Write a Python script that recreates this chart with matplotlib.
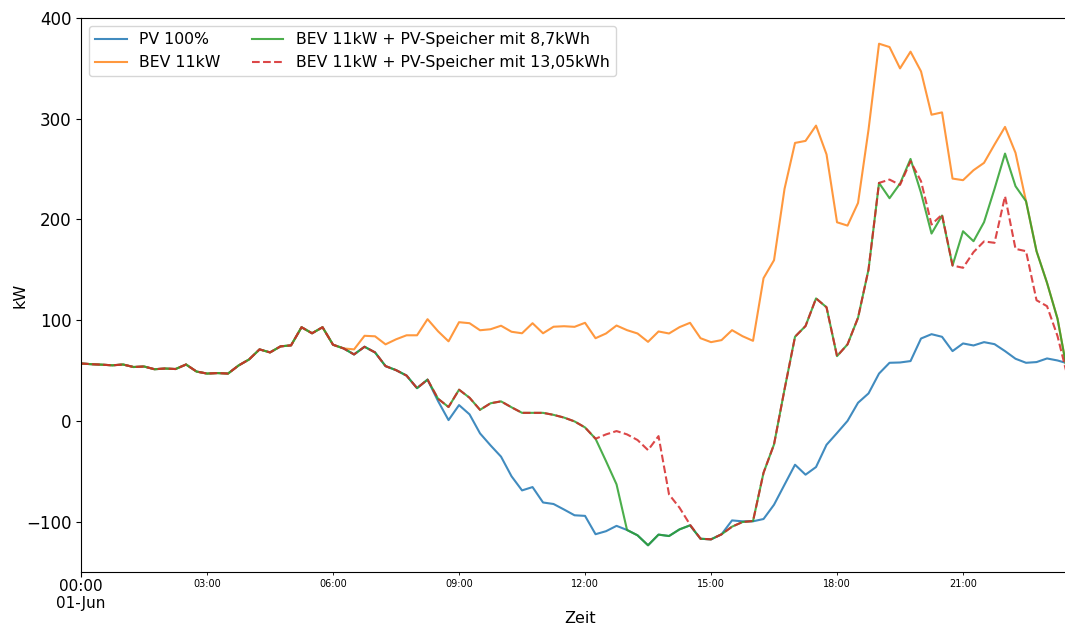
import matplotlib
matplotlib.use("Agg")
import matplotlib.pyplot as plt
import matplotlib.dates as mdates
import numpy as np
import pandas as pd

# 15-minute values for one day (kW)
zeit = pd.date_range("2021-06-01 00:00", periods=96, freq="15min")

# first 25 points are identical for all series
basis = [57, 56.3, 55.8, 55.2, 56, 53.5, 54, 51.3, 52, 51.5, 56, 49, 47,
         47.5, 47, 55, 61, 71, 68, 74, 75, 93, 87, 93, 75.6]

speicher_87 = basis + [
    72, 66, 73.6, 68, 54.4, 50.4, 45, 32.5, 41, 22, 13.8, 31, 23, 11, 17.5,
    19.4, 13.5, 8, 8, 8, 6, 3.3, -0.5, -6.5, -17.7, -40, -63, -108.3,
    -113.6, -123.5, -112.9, -114.3, -107.7, -103.7, -117, -117.6, -112.6,
    -105, -100.4, -99.4, -51.5, -23.3, 31.3, 83.6, 94.2, 121.6, 112.8, 64.3,
    76, 102.4, 150.3, 236.3, 221.1, 235.6, 260.1, 226.4, 186, 203.9, 154.3,
    188.3, 178.4, 197.3, 230.4, 265.4, 233, 218.1, 168.5, 137.1, 101.4, 45, 40]

speicher_1305 = basis + [
    72, 66, 73.6, 68, 54.4, 50.4, 45, 32.5, 41, 22, 13.8, 31, 23, 11, 17.5,
    19.4, 13.5, 8, 8, 8, 6, 3.3, -0.5, -6.5, -17.7, -13.4, -10.1, -13.4,
    -19, -29, -15.1, -73, -86.2, -103, -117, -117.6, -112.6,
    -105, -100.4, -99.4, -51.5, -23.3, 31.3, 83.6, 94.2, 121.6, 112.8, 64.3,
    76, 102.4, 150.3, 236.3, 239.6, 234.3, 257.8, 238, 195, 204.9, 154.3,
    152, 167.6, 178.2, 176.8, 223.1, 170.8, 168.5, 119.8, 113.9, 84.2, 42, 38]

bev_11kw = basis + [
    72, 71, 84.5, 84, 76, 81, 85, 85, 101, 89, 79, 98, 97, 90, 91, 94.5,
    88.5, 87, 97, 87, 93.5, 94, 93.4, 97.4, 82.1, 86.8, 94.7, 90.1, 86.8,
    78.5, 88.8, 86.8, 93.1, 97.4, 82.1, 78.2, 80.2, 90.1, 84.1, 79.5, 141.7,
    159.6, 230.4, 276, 278, 293.2, 264.6, 197.2, 193.9, 216.4, 289.2, 374.5,
    371.2, 350, 366.6, 347, 304, 306.3, 240.6, 239, 248.9, 256.2, 274.4,
    291.9, 266.1, 218.1, 168.5, 137.1, 101.4, 45, 40]

pv_100 = basis + [
    72, 66, 73.6, 68, 54.4, 50.4, 45, 32.5, 41, 19.7, 0.8, 15.7, 6.5, -12.4,
    -24.3, -35.5, -55, -69, -65.7, -81, -82.5, -88, -93.7, -94.3, -112.5,
    -109.5, -104.2, -108.3, -113.6, -123.5, -112.9, -114.3, -107.7, -103.7,
    -117, -117.6, -112.6, -98.8, -99.7, -99.7, -97.4, -83.2, -63.3, -43.5,
    -53.4, -45.8, -23.7, -12, 0, 18, 27.3, 47, 57.7, 58, 59.4, 81.8, 86.1,
    83.5, 69.3, 76.9, 74.9, 78.2, 76.2, 69.3, 61.7, 57.7, 58.4, 62, 60, 57, 55]

fig = plt.figure(figsize=(10.65, 6.28), dpi=100)
# the original picture is cut off on the right, so the axes run past the edge
ax = fig.add_axes([0.0761, 0.0892, 0.9366, 0.8821])

ax.plot(zeit, pv_100, color="#1f77b4", lw=1.5, alpha=0.85, label="PV 100%")
ax.plot(zeit, bev_11kw, color="#ff7f0e", lw=1.5, alpha=0.8, label="BEV 11kW")
ax.plot(zeit, speicher_87, color="#2ca02c", lw=1.5, alpha=0.85,
        label="BEV 11kW + PV-Speicher mit 8,7kWh")
ax.plot(zeit, speicher_1305, color="#d62728", lw=1.5, ls="--", alpha=0.85,
        label="BEV 11kW + PV-Speicher mit 13,05kWh")

ax.set_xlim(zeit[0], zeit[-1])
ax.set_ylim(-150, 400)
ax.set_yticks([-100, 0, 100, 200, 300, 400])

ax.xaxis.set_major_locator(mdates.DayLocator())
ax.xaxis.set_major_formatter(mdates.DateFormatter("%H:%M\n%d-%b"))
ax.xaxis.set_minor_locator(mdates.HourLocator(byhour=range(3, 24, 3)))
ax.xaxis.set_minor_formatter(mdates.DateFormatter("%H:%M"))
ax.tick_params(axis="x", which="major", labelsize=11, pad=1.5)
ax.tick_params(axis="x", which="minor", labelsize=7)
ax.tick_params(axis="y", labelsize=12)

ax.set_xlabel("Zeit", fontsize=11.5, labelpad=0)
ax.set_ylabel("kW", fontsize=11.5)
ax.yaxis.set_label_coords(-0.054, 0.5)

ax.legend(loc="upper left", ncol=2, fontsize=11.3)

fig.savefig("out.png", dpi=100)
